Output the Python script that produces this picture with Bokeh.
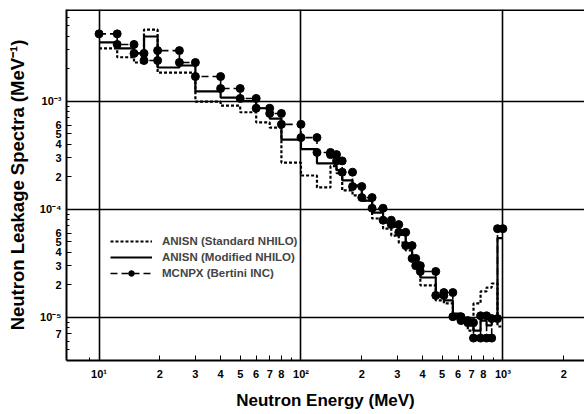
from bokeh.plotting import figure
from bokeh.models import FixedTicker, Span, Legend, LegendItem
from bokeh.embed import file_html
from bokeh.resources import INLINE

# Energy group edges (MeV)
edges = [10, 12.3, 14.9, 16.7, 19.5, 25, 30, 40, 50, 60, 70, 80, 100, 120, 140, 150, 160,
         180, 200, 225, 255, 280, 305, 330, 355, 370, 390, 465, 510, 565, 620, 670, 715,
         775, 830, 880, 940, 1000]

# ANISN (Standard NHILO)
anisn_std = [3.08e-3, 2.55e-3, 2.28e-3, 4.6e-3, 1.84e-3, 1.84e-3, 9.9e-4, 9.1e-4, 7.9e-4,
             6.35e-4, 5.7e-4, 2.7e-4, 2.05e-4, 1.59e-4, 2.5e-4, 2.15e-4, 1.49e-4, 1.34e-4,
             1.2e-4, 8.2e-5, 6.6e-5, 5.7e-5, 4.9e-5, 4.15e-5, 3.57e-5, 3.2e-5, 1.97e-5,
             1.43e-5, 1.34e-5, 9.7e-6, 8.9e-6, 7.5e-6, 1.34e-5, 1.73e-5, 1.88e-5, 2.05e-5,
             8.2e-6]

# ANISN (Modified NHILO)
anisn_mod = [3.5e-3, 3.08e-3, 2.77e-3, 3.97e-3, 2.05e-3, 2.14e-3, 1.23e-3, 1.08e-3, 1.0e-3,
             8.6e-4, 6.9e-4, 4.4e-4, 3.6e-4, 2.65e-4, 2.65e-4, 2.3e-4, 1.85e-4, 1.66e-4,
             1.2e-4, 9.3e-5, 7.5e-5, 6.9e-5, 5.8e-5, 4.5e-5, 3.65e-5, 3.2e-5, 2.33e-5,
             1.56e-5, 1.43e-5, 1.08e-5, 9.7e-6, 8.4e-6, 7.5e-6, 9.3e-6, 8.4e-6, 9.7e-6,
             5.4e-5]

# MCNPX (Bertini INC)
mcnpx = [4.2e-3, 3.35e-3, 2.77e-3, 2.38e-3, 2.94e-3, 2.28e-3, 1.69e-3, 1.31e-3, 1.06e-3,
         8.6e-4, 7.7e-4, 6.1e-4, 4.6e-4, 3.35e-4, 3.2e-4, 2.8e-4, 2.2e-4, 1.62e-4, 1.28e-4,
         1.02e-4, 7.9e-5, 7.2e-5, 6.1e-5, 4.6e-5, 3.5e-5, 3.0e-5, 2.65e-5, 1.59e-5, 1.69e-5,
         1.01e-5, 9.3e-6, 8.9e-6, 6.4e-6, 1.03e-5, 6.4e-6, 9.7e-6, 6.6e-5]

x_tick_vals = [10, 20, 30, 40, 50, 60, 70, 80, 100, 200, 300, 400, 500, 600, 700, 800, 1000, 2000]
x_tick_labels = ["10¹", "2", "3", "4", "5", "6", "7", "8", "10²", "2", "3", "4", "5", "6", "7",
                 "8", "10³", "2"]
x_minor_vals = [9, 90, 900]

y_tick_vals = [1e-3, 6e-4, 5e-4, 4e-4, 3e-4, 2e-4, 1e-4, 6e-5, 5e-5, 4e-5, 3e-5, 2e-5, 1e-5, 7e-6]
y_tick_labels = ["10⁻³", "6", "5", "4", "3", "2", "10⁻⁴", "6", "5", "4", "3", "2", "10⁻⁵", "7"]
y_minor_vals = [2e-3, 3e-3, 4e-3, 5e-3, 6e-3, 7e-4, 8e-4, 9e-4, 7e-5, 8e-5, 9e-5, 5e-6, 6e-6, 8e-6, 9e-6]

x_title = "Neutron Energy (MeV)"
y_title = "Neutron Leakage Spectra (MeV⁻¹)"
legend_labels = ["ANISN (Standard NHILO)", "ANISN (Modified NHILO)", "MCNPX (Bertini INC)"]

FONT = "Liberation Sans"
X_START, X_END = 6.9, 2535
Y_START, Y_END = 3.97e-6, 7.06e-3


def steps(e, v):
    xs, ys = [], []
    for i, val in enumerate(v):
        xs += [e[i], e[i + 1]]
        ys += [val, val]
    return xs, ys


p = figure(width=584, height=414, x_axis_type="log", y_axis_type="log",
           x_range=(X_START, X_END), y_range=(Y_START, Y_END),
           output_backend="svg", toolbar_location=None,
           min_border_left=66, min_border_right=0, min_border_top=9, min_border_bottom=54)
p.outline_line_color = None
p.background_fill_color = "white"
p.border_fill_color = "white"

# grids at decades only
p.xgrid.ticker = FixedTicker(ticks=[10, 100, 1000])
p.ygrid.ticker = FixedTicker(ticks=[1e-3, 1e-4, 1e-5])
for g in (p.xgrid, p.ygrid):
    g.grid_line_color = "black"
    g.grid_line_width = 1.6
    g.grid_line_alpha = 1.0

# top frame line
p.add_layout(Span(location=Y_END, dimension="width", line_color="black", line_width=3))

xs, ys = steps(edges, anisn_std)
r_std = p.line(xs, ys, line_color="black", line_width=2.2, line_dash="3 2")
xs, ys = steps(edges, anisn_mod)
r_mod = p.line(xs, ys, line_color="black", line_width=2.2)
xs, ys = steps(edges, mcnpx)
r_mc = p.line(xs, ys, line_color="black", line_width=1.6, line_dash="7 4")
r_mc_pts = p.scatter(xs, ys, marker="circle", size=8, fill_color="black", line_color="black")

legend = Legend(items=[
    LegendItem(label=legend_labels[0], renderers=[r_std]),
    LegendItem(label=legend_labels[1], renderers=[r_mod]),
    LegendItem(label=legend_labels[2], renderers=[r_mc, r_mc_pts]),
], location=(44, 80))
legend.background_fill_alpha = 0
legend.border_line_color = None
legend.padding = 0
legend.margin = 0
legend.spacing = 2
legend.glyph_width = 42
legend.glyph_height = 14
legend.label_height = 14
legend.label_standoff = 10
legend.label_text_font = FONT
legend.label_text_font_style = "bold"
legend.label_text_font_size = "11.5px"
p.add_layout(legend, "center")

# axes
xa = p.xaxis[0]
xa.ticker = FixedTicker(ticks=x_tick_vals, minor_ticks=x_minor_vals)
xa.major_label_overrides = dict(zip(x_tick_vals, x_tick_labels))
ya = p.yaxis[0]
ya.ticker = FixedTicker(ticks=y_tick_vals, minor_ticks=y_minor_vals)
ya.major_label_overrides = dict(zip(y_tick_vals, y_tick_labels))

for ax in (xa, ya):
    ax.axis_line_width = 2
    ax.axis_line_color = "black"
    ax.major_tick_in = 5
    ax.major_tick_out = 0
    ax.minor_tick_in = 3
    ax.minor_tick_out = 0
    ax.major_tick_line_color = "black"
    ax.minor_tick_line_color = "black"
    ax.major_label_text_font = FONT
    ax.major_label_text_font_style = "bold"
    ax.major_label_text_font_size = "11px"
    ax.major_label_text_color = "black"
    ax.axis_label_text_font = FONT
    ax.axis_label_text_font_style = "bold"
    ax.axis_label_text_color = "black"

xa.axis_label = x_title
xa.axis_label_text_font_size = "17px"
xa.major_label_standoff = 7
xa.axis_label_standoff = 8
ya.axis_label = y_title
ya.axis_label_text_font_size = "18.5px"
ya.major_label_standoff = 5
ya.axis_label_standoff = 9

open("out.html", "w").write(file_html(p, INLINE))
